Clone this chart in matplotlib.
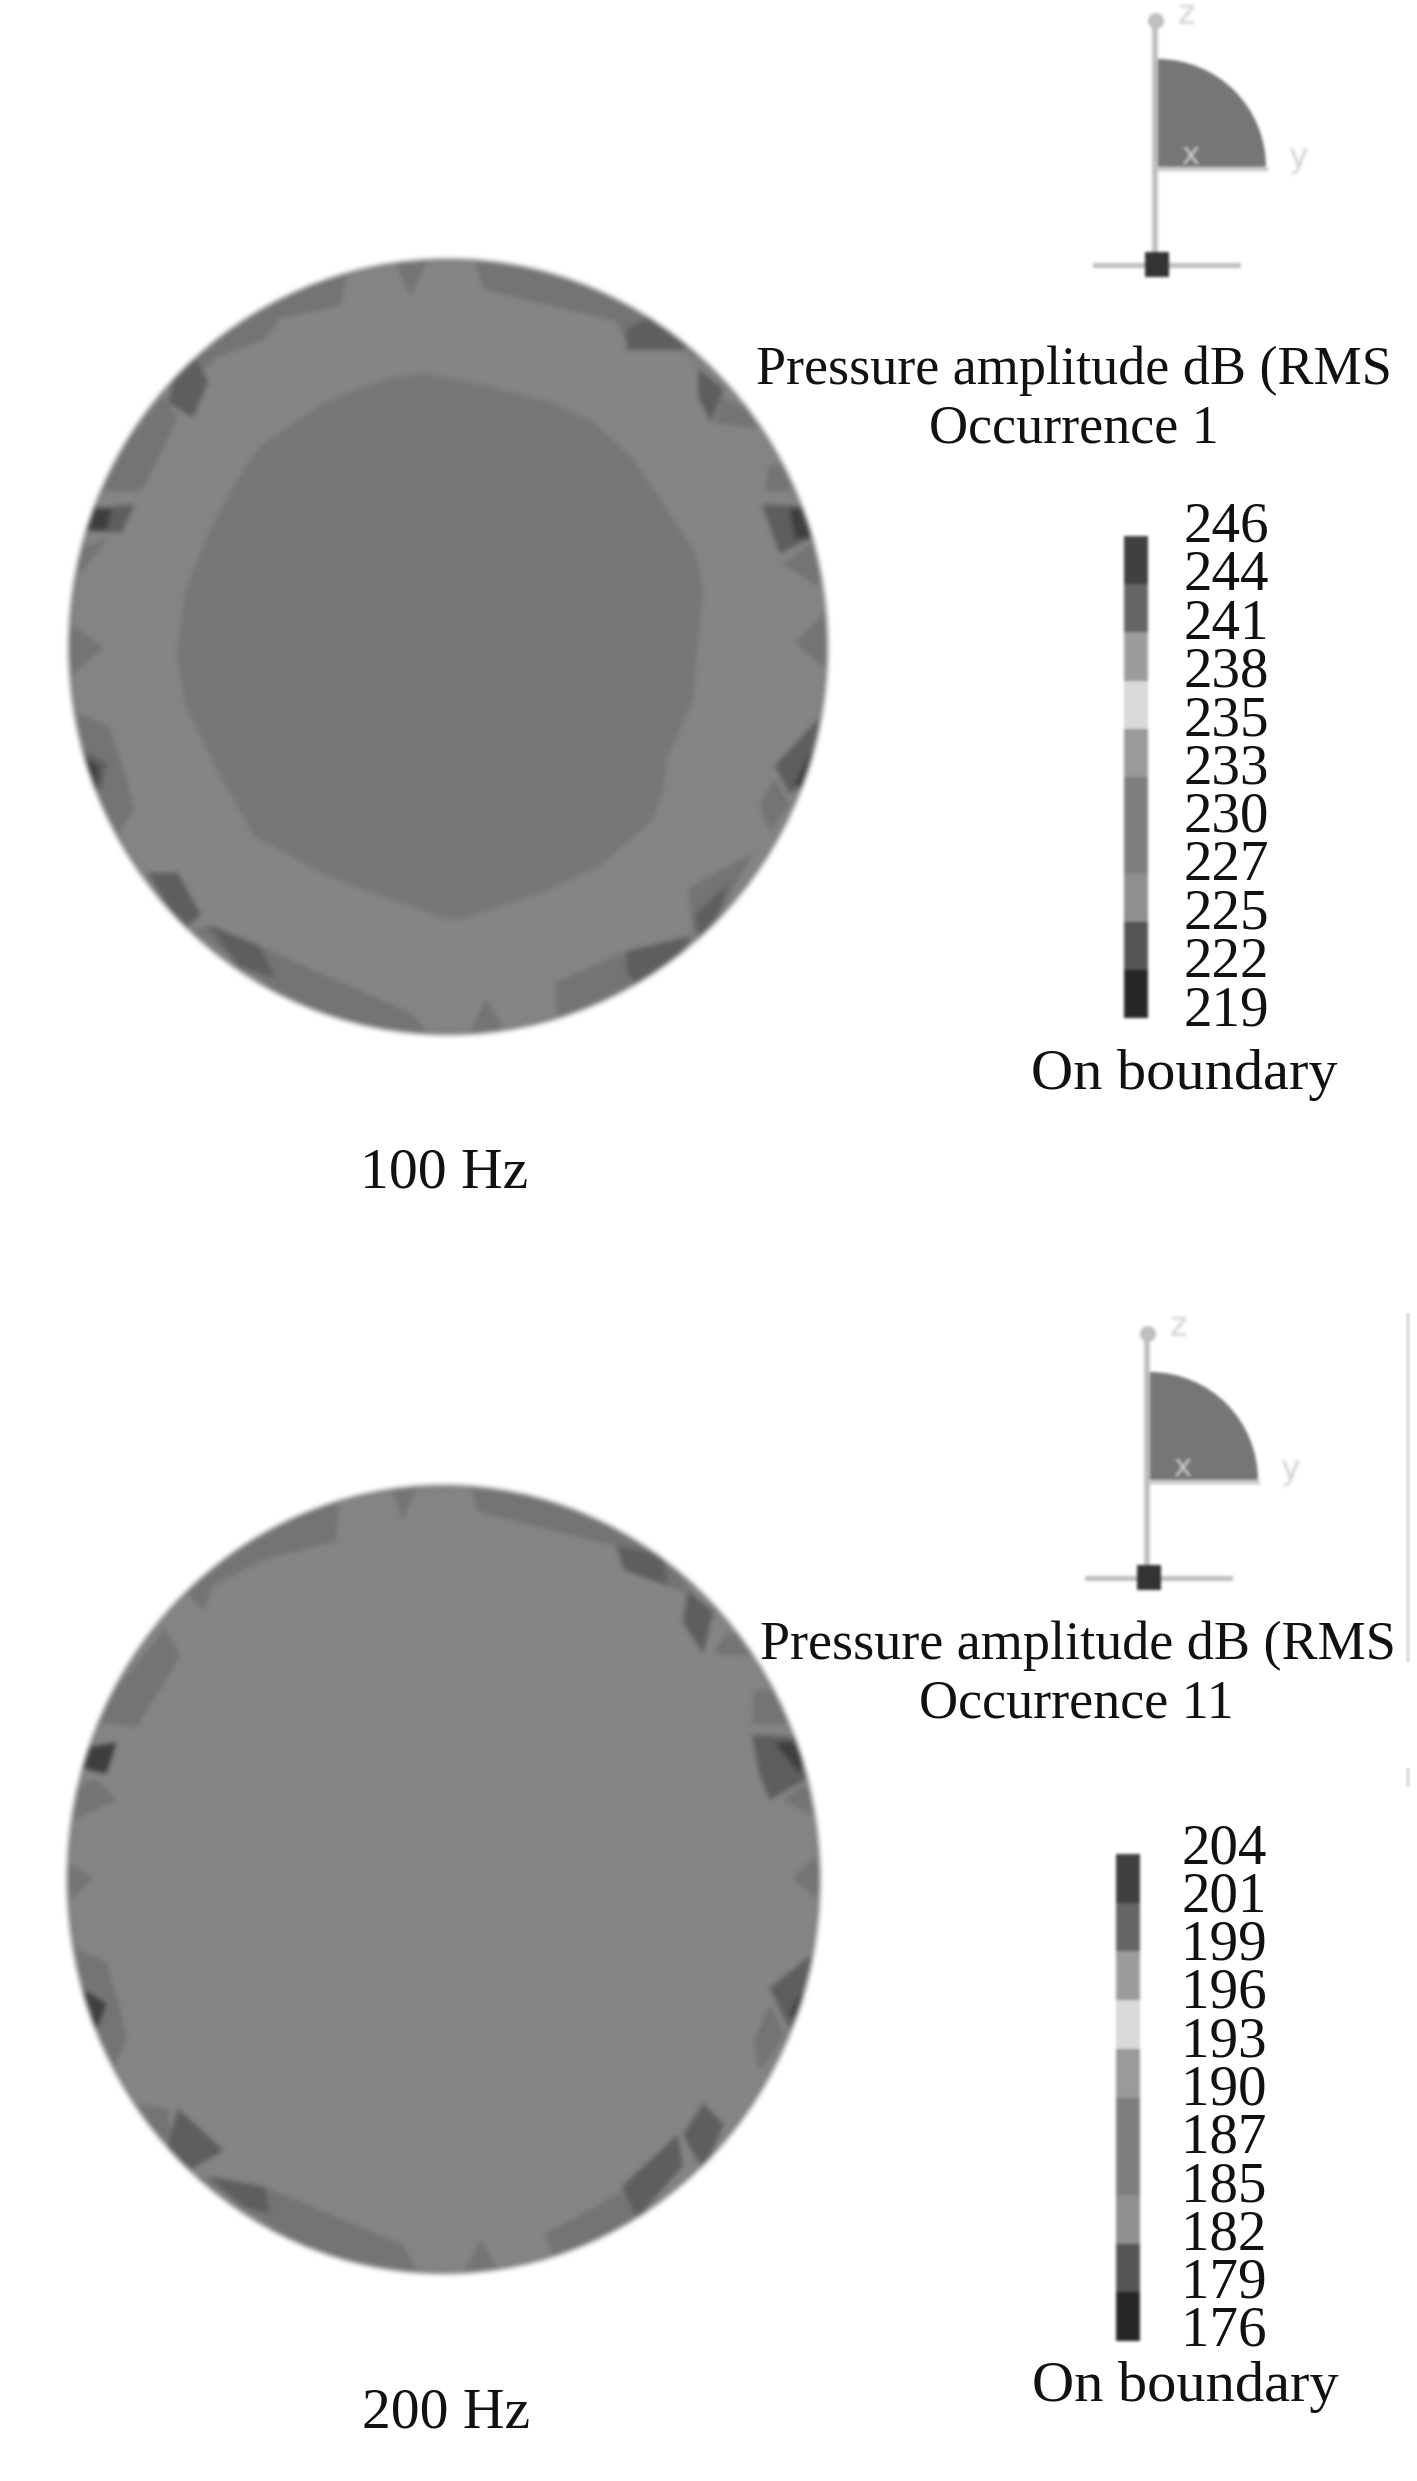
import numpy as np
import matplotlib
matplotlib.use("Agg")
import matplotlib.pyplot as plt
from matplotlib.patches import Ellipse, Wedge, Rectangle, Circle

W, H = 1417, 2481
plt.rcParams['font.family'] = ['Liberation Serif', 'DejaVu Serif']

# legend values, top to bottom
levels_1 = [246, 244, 241, 238, 235, 233, 230, 227, 225, 222, 219]
levels_2 = [204, 201, 199, 196, 193, 190, 187, 185, 182, 179, 176]
band_greys = ['#404040', '#666666', '#9c9c9c', '#dadada', '#9a9a9a',
              '#7e7e7e', '#7e7e7e', '#8f8f8f', '#555555', '#272727']

freq_labels = ['100 Hz', '200 Hz']
occurrences = ['Occurrence 1', 'Occurrence 11']

inner_1 = [(750, 255), (870, 278), (1000, 310), (1080, 345), (1160, 415), (1215, 495), (1285, 600),
           (1300, 670), (1290, 760), (1280, 880), (1230, 990), (1220, 1060), (1200, 1110), (1100, 1195),
           (980, 1250), (830, 1297), (790, 1297), (700, 1265), (560, 1215), (420, 1140), (350, 1020),
           (285, 890), (268, 790), (285, 670), (330, 560), (385, 460), (430, 395), (560, 310), (680, 265)]

# rim patches, same crop units
mid_1 = [[(690, 30), (765, 30), (725, 108)],
         [(850, 30), (870, 95), (1130, 155), (1155, 210), (1265, 210), (1300, 250), (1200, 100), (1000, 30)],
         [(1335, 300), (1420, 340), (1400, 360), (1325, 350)],
         [(1430, 430), (1480, 430), (1490, 480), (1420, 480)],
         [(1455, 620), (1510, 580), (1560, 640), (1520, 660)],
         [(1560, 690), (1480, 770), (1560, 840)],
         [(1410, 1080), (1440, 1030), (1470, 1080), (1430, 1130)],
         [(1270, 1240), (1400, 1170), (1330, 1290), (1280, 1330)],
         [(1010, 1420), (1150, 1360), (1170, 1420), (1040, 1530), (1010, 1470)],
         [(830, 1540), (875, 1450), (925, 1540)],
         [(430, 1350), (730, 1480), (780, 1540), (600, 1530), (300, 1320), (335, 1310)],
         [(40, 890), (135, 930), (160, 1000), (185, 1090), (150, 1140), (60, 1000)],
         [(40, 720), (125, 780), (40, 850)],
         [(50, 600), (135, 570), (60, 660)],
         [(100, 480), (200, 480), (270, 340), (240, 300)],
         [(610, 30), (590, 125), (470, 150), (440, 190), (345, 225), (320, 250), (260, 190), (430, 90)]]
dark_1 = [[(1150, 170), (1150, 210), (1265, 210), (1230, 130)],
          [(1290, 245), (1340, 285), (1315, 350), (1290, 300)],
          [(1415, 505), (1510, 510), (1530, 560), (1450, 600)],
          [(1560, 880), (1440, 1005), (1470, 1060), (1530, 1010)],
          [(1285, 1290), (1350, 1230), (1330, 1290), (1290, 1335)],
          [(1150, 1360), (1280, 1330), (1190, 1445), (1150, 1400)],
          [(330, 1310), (430, 1350), (460, 1410), (390, 1390)],
          [(210, 1210), (270, 1210), (315, 1290), (280, 1320)],
          [(95, 515), (185, 505), (160, 560), (80, 555)],
          [(265, 260), (300, 220), (330, 270), (300, 340), (250, 310)],
          [(70, 970), (130, 1000), (120, 1050), (100, 1060)]]
darkest_1 = [[(1470, 515), (1530, 515), (1530, 570), (1480, 570)],
             [(1510, 980), (1530, 980), (1510, 1060), (1480, 1040)],
             [(90, 510), (140, 515), (130, 555), (85, 555)],
             [(80, 980), (115, 1010), (110, 1050), (95, 1040)]]

mid_2 = [[(685, 40), (745, 40), (710, 115)],
         [(840, 40), (860, 100), (1130, 165), (1145, 210), (1230, 240), (1280, 260), (1180, 110), (1000, 50)],
         [(1320, 370), (1345, 330), (1420, 350), (1395, 375)],
         [(1400, 440), (1450, 440), (1480, 505), (1395, 505)],
         [(1455, 650), (1500, 620), (1540, 690)],
         [(1550, 730), (1475, 800), (1550, 860)],
         [(1400, 1110), (1430, 1040), (1460, 1100), (1410, 1170)],
         [(990, 1480), (1140, 1400), (1170, 1440), (1020, 1560)],
         [(820, 1570), (865, 1490), (910, 1570)],
         [(440, 1390), (710, 1500), (750, 1570), (600, 1560), (310, 1370)],
         [(40, 920), (130, 960), (155, 1040), (170, 1110), (140, 1170), (60, 1040)],
         [(40, 760), (105, 800), (40, 860)],
         [(50, 640), (110, 610), (150, 650), (60, 690)],
         [(100, 500), (190, 510), (275, 375), (245, 320)],
         [(590, 40), (580, 155), (440, 190), (340, 240), (320, 290), (260, 220), (430, 100)],
         [(165, 1230), (250, 1240), (260, 1300), (210, 1300)]]
dark_2 = [[(1270, 250), (1320, 290), (1300, 370), (1260, 310)],
          [(1395, 525), (1490, 530), (1520, 600), (1430, 650), (1410, 600)],
          [(1545, 920), (1430, 1010), (1470, 1090), (1520, 1020)],
          [(1260, 1290), (1300, 1230), (1340, 1270), (1300, 1360)],
          [(1140, 1390), (1250, 1290), (1260, 1350), (1170, 1450)],
          [(270, 1240), (360, 1320), (290, 1360), (250, 1310)],
          [(330, 1370), (440, 1390), (450, 1440), (400, 1430)],
          [(1130, 165), (1220, 180), (1230, 240), (1145, 210)]]
darkest_2 = [[(80, 1010), (130, 1040), (110, 1090), (90, 1070)],
             [(1440, 540), (1500, 540), (1490, 600)],
             [(1490, 1020), (1515, 1020), (1490, 1080), (1470, 1060)],
             [(90, 550), (150, 540), (130, 600), (85, 590)]]


def soften(radius):
    # the reference is a blurry screenshot, so smear the drawn layer a little
    def blur(img, dpi):
        pad = radius * 3
        out = np.pad(img, ((pad, pad), (pad, pad), (0, 0)))
        out[..., :3] *= out[..., 3:]
        for _ in range(3):
            for axis in (0, 1):
                total = sum(np.roll(out, s, axis=axis) for s in range(-radius, radius + 1))
                out = total / (2 * radius + 1)
        alpha = np.clip(out[..., 3:], 1e-4, 1)
        out[..., :3] = np.clip(out[..., :3] / alpha, 0, 1)
        return out, -pad, -pad
    return blur


def px_axes(x0, y0, x1, y1):
    ax = fig.add_axes([x0 / W, 1 - y1 / H, (x1 - x0) / W, (y1 - y0) / H])
    ax.axis('off')
    return ax


def label(x, y, s, size=39):
    fig.text(x / W, 1 - y / H, s, ha='center', va='center', fontsize=size, color='#111111')


def draw_disc(crop, cx, cy, rx, ry, base, mid, dark, darkest, inner=None):
    ax = px_axes(*crop)
    ax.set_xlim(0, 1568)
    ax.set_ylim(1568, 0)
    disc = Ellipse((cx, cy), 2 * rx, 2 * ry, fc=base, ec='#6a6a6a', lw=1.5, zorder=1)
    ax.add_patch(disc)
    for group, grey in ((mid, '#747474'), (dark, '#5e5e5e'), (darkest, '#3e3e3e')):
        for poly in group:
            xs, ys = zip(*poly)
            ax.fill(xs, ys, color=grey, lw=0, zorder=2, clip_path=disc)
    if inner is not None:
        xs, ys = zip(*inner)
        ax.fill(xs, ys, color='#777777', lw=0, zorder=3)
    ax.set_agg_filter(soften(2))


def draw_triad(dx, dy):
    ax = px_axes(1080 + dx, 0 + dy, 1320 + dx, 300 + dy)
    ax.set_xlim(1080, 1320)
    ax.set_ylim(300, 0)
    ax.plot([1155, 1155], [22, 255], color='#bdbdbd', lw=4, zorder=1)
    ax.plot([1095, 1238], [265, 265], color='#bdbdbd', lw=3.5, zorder=1)
    ax.add_patch(Circle((1156, 21), 8, fc='#c0c0c0', ec='none'))
    ax.add_patch(Wedge((1158, 167), 108, 270, 360, fc='#777777', ec='none', zorder=2))
    ax.plot([1158, 1266], [169, 169], color='#c4c4c4', lw=2.5, zorder=3)
    ax.add_patch(Rectangle((1145, 252), 24, 25, fc='#333333', ec='none', zorder=4))
    ax.text(1186, 14, 'z', color='#d4d4d4', fontsize=24, ha='center', va='center', family='DejaVu Sans')
    ax.text(1190, 155, 'x', color='#cccccc', fontsize=22, ha='center', va='center', zorder=5, family='DejaVu Sans')
    ax.text(1298, 157, 'y', color='#d4d4d4', fontsize=24, ha='center', va='center', family='DejaVu Sans')
    ax.set_agg_filter(soften(1))


def draw_legend(bar, levels, x_text, y_first, y_step):
    ax = px_axes(*bar)
    ax.set_xlim(0, 1)
    ax.set_ylim(len(band_greys), 0)
    ax.bar([0.5] * len(band_greys), [1] * len(band_greys), width=1,
           bottom=list(range(len(band_greys))), color=band_greys)
    ax.set_agg_filter(soften(1))
    for i, v in enumerate(levels):
        label(x_text, y_first + i * y_step, str(v), size=41)


fig = plt.figure(figsize=(W / 100, H / 100), dpi=100, facecolor='white')

draw_disc((40, 240, 840, 1060), 800, 778, 742, 740, '#858585', mid_1, dark_1, darkest_1, inner_1)
draw_disc((40, 1460, 840, 2280), 791, 802, 736, 752, '#858585', mid_2, dark_2, darkest_2)

draw_triad(0, 0)
draw_triad(-8, 1313)

# faint frame remnants on the right
bg = px_axes(1400, 1300, 1417, 1800)
bg.set_xlim(1400, 1417)
bg.set_ylim(1800, 1300)
bg.plot([1408, 1408], [1315, 1660], color='#e2e2e2', lw=3)
bg.plot([1408, 1408], [1770, 1785], color='#e2e2e2', lw=3)

label(1074, 371, 'Pressure amplitude dB (RMS')
label(1074, 429, occurrences[0])
label(1184, 1075, 'On boundary', size=42)
label(444, 1174, freq_labels[0], size=41.5)

label(1078, 1646, 'Pressure amplitude dB (RMS')
label(1076, 1704, occurrences[1])
label(1185, 2387, 'On boundary', size=42)
label(446, 2413, freq_labels[1], size=41.5)

draw_legend((1124, 536, 1148, 1018), levels_1, 1226, 528, 48.3)
draw_legend((1116, 1854, 1140, 2341), levels_2, 1224, 1849, 48.3)

fig.savefig('out.png', dpi=100, facecolor='white')
